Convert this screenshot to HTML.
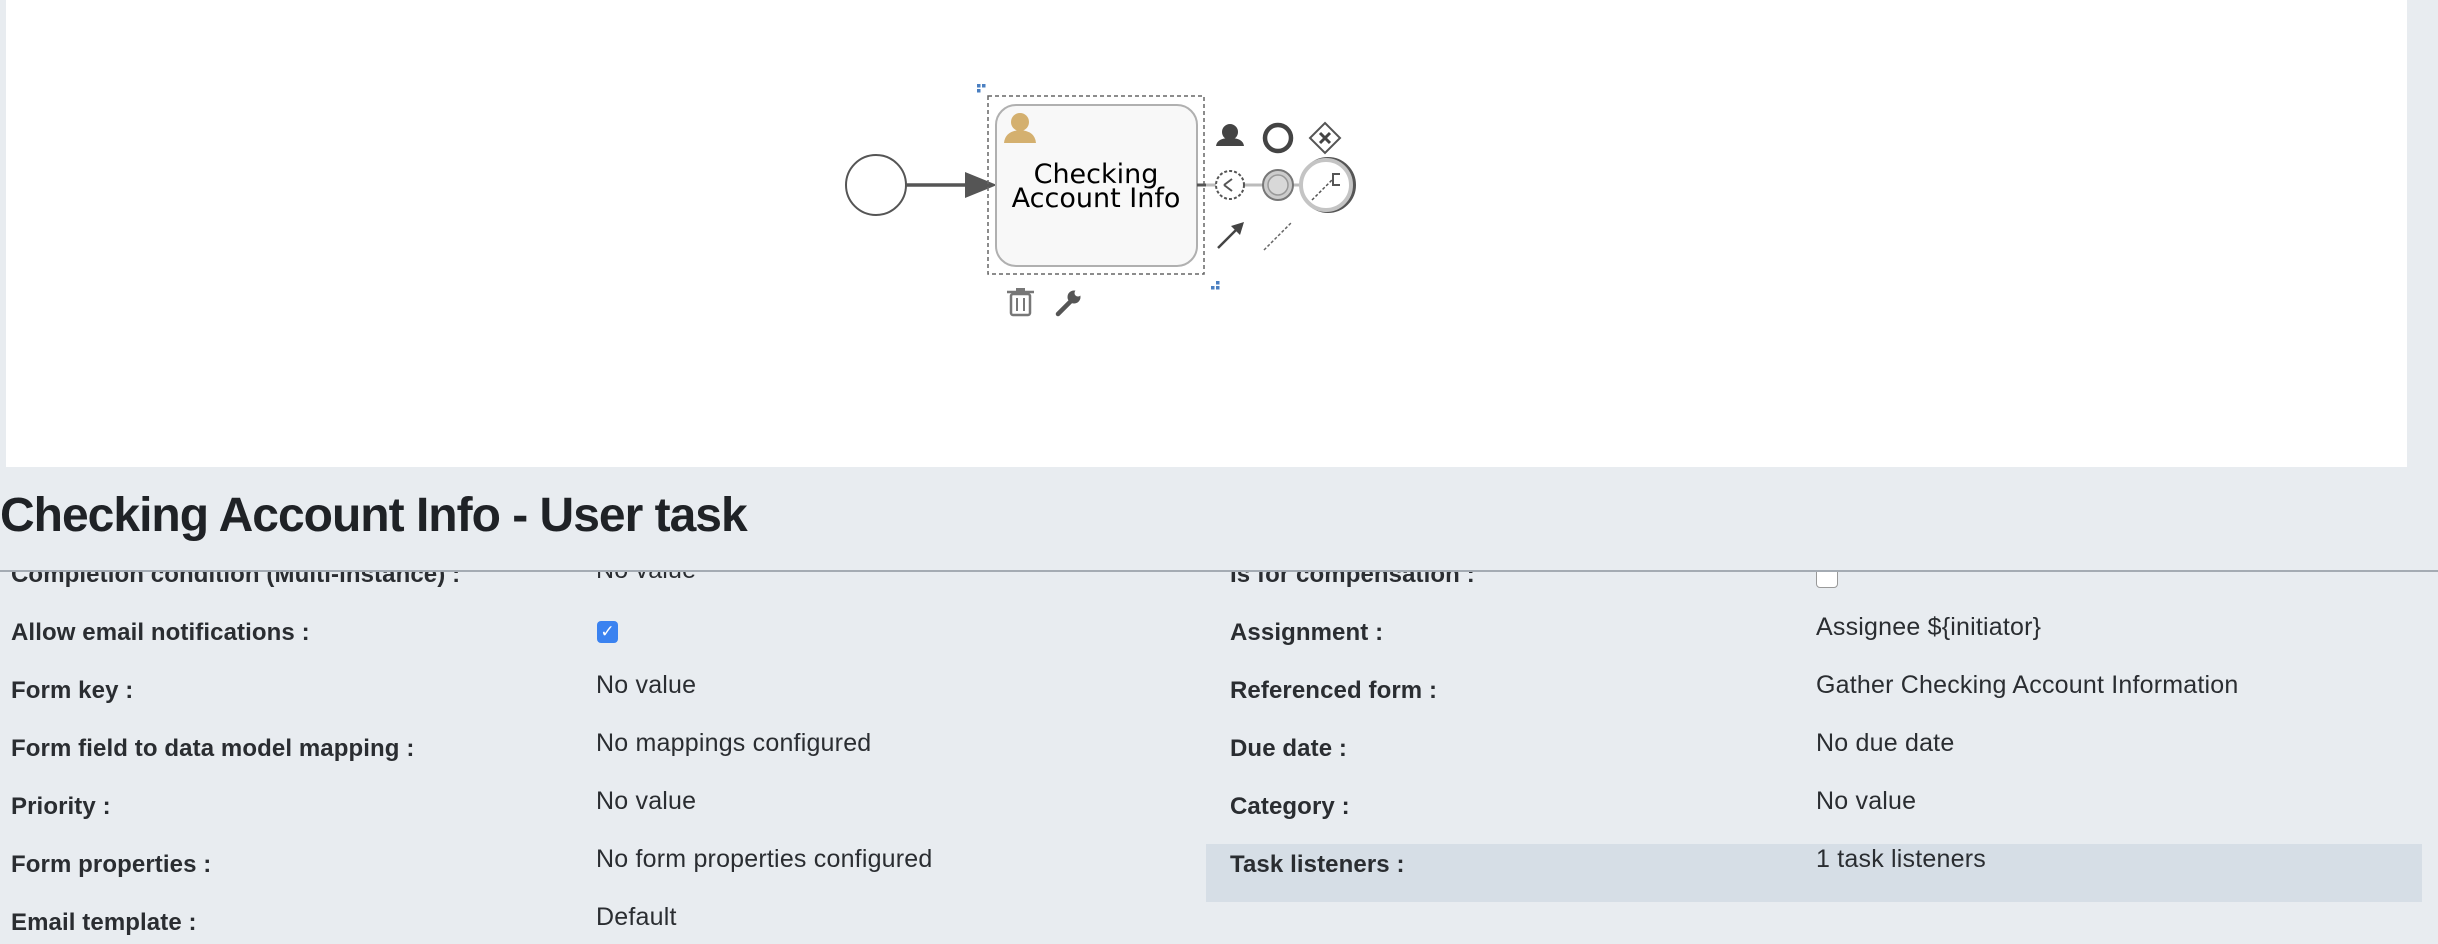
<!DOCTYPE html>
<html><head><meta charset="utf-8"><style>
html,body{margin:0;padding:0;width:2438px;height:944px;overflow:hidden;background:#e8ecf0;font-family:"Liberation Sans",sans-serif;}
#canvas{position:absolute;left:6px;top:0;width:2401px;height:467px;background:#fff;}
#title{position:absolute;left:0;top:488px;font-size:48px;font-weight:bold;letter-spacing:-1px;color:#1f2226;}
#hline{position:absolute;left:0;top:570px;width:2438px;height:2px;background:#a4abb3;}
#rows{position:absolute;left:0;top:572px;width:2438px;height:372px;overflow:hidden;}
.l{position:absolute;font-size:24px;font-weight:bold;letter-spacing:0.1px;color:#2a2d31;white-space:nowrap;}
.v{position:absolute;font-size:25px;letter-spacing:0.2px;color:#2a2d31;white-space:nowrap;}
#hl{position:absolute;left:1206px;top:272px;width:1216px;height:58px;background:#d6dee6;}
</style></head><body>
<div id="canvas">
<svg width="2401" height="467" viewBox="6 0 2401 467" style="position:absolute;left:0;top:0">
 <circle cx="876" cy="185" r="30" fill="#fff" stroke="#555" stroke-width="2"/>
 <line x1="906" y1="185" x2="968" y2="185" stroke="#555" stroke-width="3.5"/>
 <polygon points="965,172 997,185 965,198" fill="#555"/>
 <rect x="988" y="96" width="216" height="178" fill="none" stroke="#666" stroke-width="1.5" stroke-dasharray="4,3"/>
 <rect x="996" y="105" width="201" height="161" rx="20" fill="#f8f8f8" stroke="#b0b0b0" stroke-width="2"/>
 <circle cx="1020" cy="122" r="9" fill="#d4b06f"/>
 <path d="M1004,143 Q1005,131 1020,130 Q1035,131 1036,143 Z" fill="#d4b06f"/>
 <text x="1096" y="183" font-size="27" text-anchor="middle" font-family="DejaVu Sans, sans-serif">Checking</text>
 <text x="1096" y="207" font-size="27" text-anchor="middle" font-family="DejaVu Sans, sans-serif">Account Info</text>
 <rect x="977" y="84" width="3.5" height="3.5" fill="#4a7fc1"/><rect x="982" y="84" width="3.5" height="3.5" fill="#4a7fc1"/><rect x="977" y="89" width="3.5" height="3.5" fill="#4a7fc1"/>
 <rect x="1216" y="281" width="3.5" height="3.5" fill="#4a7fc1"/><rect x="1211" y="286" width="3.5" height="3.5" fill="#4a7fc1"/><rect x="1216" y="286" width="3.5" height="3.5" fill="#4a7fc1"/>
 <!-- palette -->
 <circle cx="1230" cy="132" r="8" fill="#444"/><path d="M1216,146 Q1217,138 1230,138 Q1243,138 1244,146 Z" fill="#444"/>
 <circle cx="1278" cy="138" r="13" fill="none" stroke="#444" stroke-width="4.5"/>
 <polygon points="1325,123 1340,138 1325,153 1310,138" fill="#fff" stroke="#555" stroke-width="2"/>
 <path d="M1320,133 L1330,143 M1330,133 L1320,143" stroke="#444" stroke-width="3"/>
 <line x1="1197" y1="185" x2="1305" y2="185" stroke="#bbb" stroke-width="3"/>
 <line x1="1197" y1="185" x2="1206" y2="185" stroke="#555" stroke-width="3"/>
 <circle cx="1230" cy="185" r="14" fill="#fff" stroke="#555" stroke-width="2" stroke-dasharray="3,2"/>
 <path d="M1224,185 L1232,179 M1224,185 L1232,191" stroke="#555" stroke-width="2"/>
 <circle cx="1278" cy="185" r="15" fill="#ccc" stroke="#777" stroke-width="2"/><circle cx="1278" cy="185" r="10" fill="#d8d8d8" stroke="#999" stroke-width="1.5"/>
 <circle cx="1328" cy="185" r="26" fill="none" stroke="#555" stroke-width="4"/>
 <circle cx="1326" cy="185" r="25" fill="#fff" stroke="#c4c4c4" stroke-width="4"/>
 <line x1="1312" y1="200" x2="1332" y2="180" stroke="#555" stroke-width="1.5" stroke-dasharray="3,2"/>
 <path d="M1340,174 L1333,174 L1333,185 L1340,185" fill="none" stroke="#555" stroke-width="2"/>
 <line x1="1218" y1="248" x2="1240" y2="226" stroke="#444" stroke-width="2.5"/>
 <polygon points="1244,222 1231,226 1240,235" fill="#444"/>
 <line x1="1264" y1="250" x2="1292" y2="222" stroke="#666" stroke-width="1.5" stroke-dasharray="3,2"/>
 <!-- trash & wrench -->
 <rect x="1011" y="294" width="19" height="21" rx="2" fill="none" stroke="#777" stroke-width="2.5"/>
 <line x1="1007" y1="292" x2="1034" y2="292" stroke="#777" stroke-width="2.5"/><rect x="1016" y="288" width="9" height="4" fill="#777"/>
 <line x1="1017" y1="298" x2="1017" y2="311" stroke="#777" stroke-width="2"/><line x1="1024" y1="298" x2="1024" y2="311" stroke="#777" stroke-width="2"/>
 <line x1="1058" y1="314" x2="1072" y2="300" stroke="#555" stroke-width="4.5" stroke-linecap="round"/>
 <circle cx="1074" cy="297" r="6.5" fill="#555"/><circle cx="1078" cy="293" r="3.5" fill="#fff"/>
</svg>
</div>
<div id="title">Checking Account Info - User task</div>
<div id="rows">
 <div id="hl"></div>
 <div class="l" style="left:11px;top:-11px">Completion condition (Multi-instance) :</div>
 <div class="v" style="left:596px;top:-16px">No value</div>
 <div class="l" style="left:11px;top:47px">Allow email notifications :</div>
 <div style="position:absolute;left:597px;top:49px;width:21px;height:22px;border-radius:4px;background:#3a82f0;color:#fff;font-size:17px;text-align:center;line-height:22px">✓</div>
 <div class="l" style="left:11px;top:105px">Form key :</div><div class="v" style="left:596px;top:99px">No value</div>
 <div class="l" style="left:11px;top:163px">Form field to data model mapping :</div><div class="v" style="left:596px;top:157px">No mappings configured</div>
 <div class="l" style="left:11px;top:221px">Priority :</div><div class="v" style="left:596px;top:215px">No value</div>
 <div class="l" style="left:11px;top:279px">Form properties :</div><div class="v" style="left:596px;top:273px">No form properties configured</div>
 <div class="l" style="left:11px;top:337px">Email template :</div><div class="v" style="left:596px;top:331px">Default</div>

 <div class="l" style="left:1230px;top:-11px">Is for compensation :</div>
 <div style="position:absolute;left:1816px;top:-4px;width:20px;height:18px;border:1px solid #999;border-radius:4px;background:#fff"></div>
 <div class="l" style="left:1230px;top:47px">Assignment :</div><div class="v" style="left:1816px;top:41px">Assignee ${initiator}</div>
 <div class="l" style="left:1230px;top:105px">Referenced form :</div><div class="v" style="left:1816px;top:99px">Gather Checking Account Information</div>
 <div class="l" style="left:1230px;top:163px">Due date :</div><div class="v" style="left:1816px;top:157px">No due date</div>
 <div class="l" style="left:1230px;top:221px">Category :</div><div class="v" style="left:1816px;top:215px">No value</div>
 <div class="l" style="left:1230px;top:279px">Task listeners :</div><div class="v" style="left:1816px;top:273px">1 task listeners</div>
</div>
<div id="hline"></div>
</body></html>
